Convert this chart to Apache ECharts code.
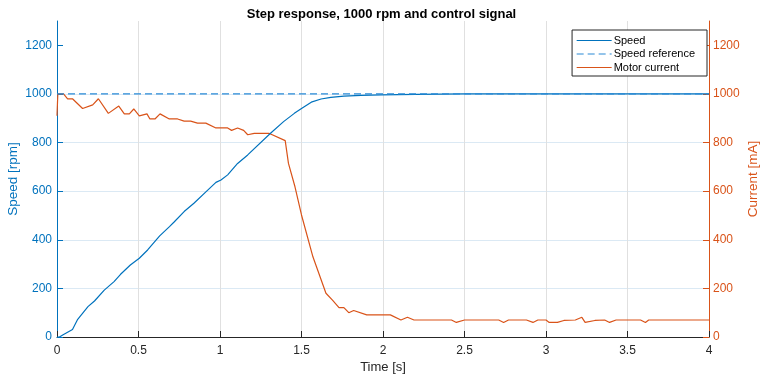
<!DOCTYPE html>
<html>
<head>
<meta charset="utf-8">
<script src="https://cdn.jsdelivr.net/npm/echarts@6/dist/echarts.min.js"></script>
<style>
  html, body { margin: 0; padding: 0; background: #fff; }
  #chart { width: 763px; height: 378px; }
</style>
</head>
<body>
<div id="chart"></div>
<script>
// Measured speed [rpm] over time [s]
const speedTime = [0, 0.015, 0.035, 0.095, 0.127, 0.19, 0.23, 0.29, 0.35, 0.39, 0.45, 0.505, 0.556, 0.63, 0.69, 0.72, 0.78, 0.84, 0.915, 0.975, 1.006, 1.047, 1.108, 1.17, 1.31, 1.39, 1.456, 1.5, 1.56, 1.62, 1.68, 1.76, 1.865, 1.99, 2.2, 2.5, 4.0];
const speedRpm  = [0, 0, 8, 31, 73, 125, 148, 193, 228, 258, 296, 324, 358, 416, 454, 474, 516, 550, 598, 636, 646, 667, 714, 749, 838, 886, 920, 940, 966, 979, 986, 991, 994, 996, 998, 1000, 1000];

// Speed set point [rpm]
const refTime = [0, 4];
const refRpm  = [1000, 1000];

// Motor current [mA] over time [s]
const currentTime = [0, 0.005, 0.04, 0.065, 0.095, 0.157, 0.219, 0.254, 0.315, 0.379, 0.413, 0.444, 0.471, 0.505, 0.552, 0.57, 0.601, 0.632, 0.689, 0.74, 0.78, 0.82, 0.862, 0.913, 0.975, 1.047, 1.071, 1.108, 1.145, 1.17, 1.21, 1.30, 1.40, 1.42, 1.46, 1.50, 1.57, 1.65, 1.69, 1.73, 1.76, 1.79, 1.82, 1.90, 2.045, 2.11, 2.15, 2.19, 2.42, 2.45, 2.50, 2.71, 2.74, 2.77, 2.88, 2.92, 2.95, 3.0, 3.02, 3.07, 3.11, 3.18, 3.22, 3.24, 3.30, 3.36, 3.39, 3.43, 3.58, 3.61, 3.63, 4.0];
const currentMa   = [910, 1000, 1000, 980, 980, 940, 955, 980, 920, 950, 918, 918, 938, 910, 918, 897, 897, 918, 897, 897, 888, 888, 880, 880, 860, 860, 850, 860, 850, 832, 838, 838, 808, 714, 618, 502, 330, 180, 152, 121, 121, 100, 109, 91, 91, 70, 81, 70, 70, 60, 70, 70, 60, 70, 70, 60, 70, 70, 60, 60, 68, 70, 81, 60, 68, 70, 60, 70, 70, 60, 70, 70];

// Axis ticks
const timeTicks = [0, 0.5, 1, 1.5, 2, 2.5, 3, 3.5, 4];
const levelTicks = [0, 200, 400, 600, 800, 1000, 1200];

const FONT = '"Liberation Sans", Arial, Helvetica, sans-serif';
const BLUE = '#0072BD';
const BLUE_REF = '#2a8ad6';
const ORANGE = '#D95319';
const DARK = '#262626';

const pairs = (xs, ys) => xs.map((x, i) => [x, ys[i]]);
const plain = v => String(v);

const chart = echarts.init(document.getElementById('chart'), null, { renderer: 'canvas' });

function levelAxis(color, name, position) {
  return {
    type: 'value',
    position: position,
    min: 0,
    max: 1300,
    interval: 200,
    name: name,
    nameLocation: 'middle',
    nameRotate: 90,
    nameGap: 37,
    nameMoveOverlap: false,
    nameTextStyle: { color: color, fontSize: 13.5, fontFamily: FONT },
    axisLine: { show: true, lineStyle: { color: color, width: 1 } },
    axisTick: { show: true, inside: true, length: 6, customValues: levelTicks, lineStyle: { color: color } },
    axisLabel: { color: color, fontSize: 12, fontFamily: FONT, margin: position === 'left' ? 5 : 4, customValues: levelTicks, formatter: plain },
    splitLine: {
      show: position === 'left',
      showMinLine: false,
      showMaxLine: false,
      lineStyle: { color: '#dbe9f4', width: 1 }
    }
  };
}

chart.setOption({
  animation: false,
  backgroundColor: '#fff',
  title: {
    text: 'Step response, 1000 rpm and control signal',
    left: 'center',
    top: 3,
    textStyle: { fontFamily: FONT, fontSize: 13, fontWeight: 'bold', color: '#000' }
  },
  grid: { left: 57, right: 54, top: 21, bottom: 41, containLabel: false, outerBoundsMode: 'none' },
  legend: {
    orient: 'vertical',
    right: 56,
    top: 30,
    padding: [5, 12, 3, 4],
    itemWidth: 35,
    itemHeight: 12,
    itemGap: 2.5,
    backgroundColor: '#fff',
    borderColor: DARK,
    borderWidth: 1,
    borderRadius: 0,
    itemStyle: { color: 'transparent', borderWidth: 0, opacity: 0 },
    lineStyle: { width: 1.2 },
    textStyle: { fontFamily: FONT, fontSize: 11, color: '#000', padding: [0, 0, 0, -3] },
    data: ['Speed', 'Speed reference', 'Motor current']
  },
  xAxis: {
    type: 'value',
    min: 0,
    max: 4,
    interval: 0.5,
    name: 'Time [s]',
    nameLocation: 'middle',
    nameGap: 24,
    nameMoveOverlap: false,
    nameTextStyle: { color: DARK, fontSize: 13, fontFamily: FONT },
    axisLine: { show: true, onZero: false, lineStyle: { color: DARK, width: 1 } },
    axisTick: { show: true, inside: true, length: 6, customValues: timeTicks, lineStyle: { color: DARK } },
    axisLabel: { color: DARK, fontSize: 12, fontFamily: FONT, margin: 8, customValues: timeTicks, formatter: plain },
    splitLine: { show: true, showMinLine: false, showMaxLine: false, lineStyle: { color: '#e0e0e0', width: 1 } }
  },
  yAxis: [
    levelAxis(BLUE, 'Speed [rpm]', 'left'),
    levelAxis(ORANGE, 'Current [mA]', 'right')
  ],
  series: [
    {
      name: 'Speed',
      type: 'line',
      yAxisIndex: 0,
      data: pairs(speedTime, speedRpm),
      symbol: 'none',
      color: BLUE,
      lineStyle: { color: BLUE, width: 1.2 },
      z: 3
    },
    {
      name: 'Speed reference',
      type: 'line',
      yAxisIndex: 0,
      data: pairs(refTime, refRpm),
      symbol: 'none',
      color: BLUE_REF,
      lineStyle: { color: BLUE_REF, width: 1.3, type: [7, 4] },
      z: 4
    },
    {
      name: 'Motor current',
      type: 'line',
      yAxisIndex: 1,
      data: pairs(currentTime, currentMa),
      symbol: 'none',
      color: ORANGE,
      lineStyle: { color: ORANGE, width: 1.2 },
      z: 2
    }
  ]
});
</script>
</body>
</html>
